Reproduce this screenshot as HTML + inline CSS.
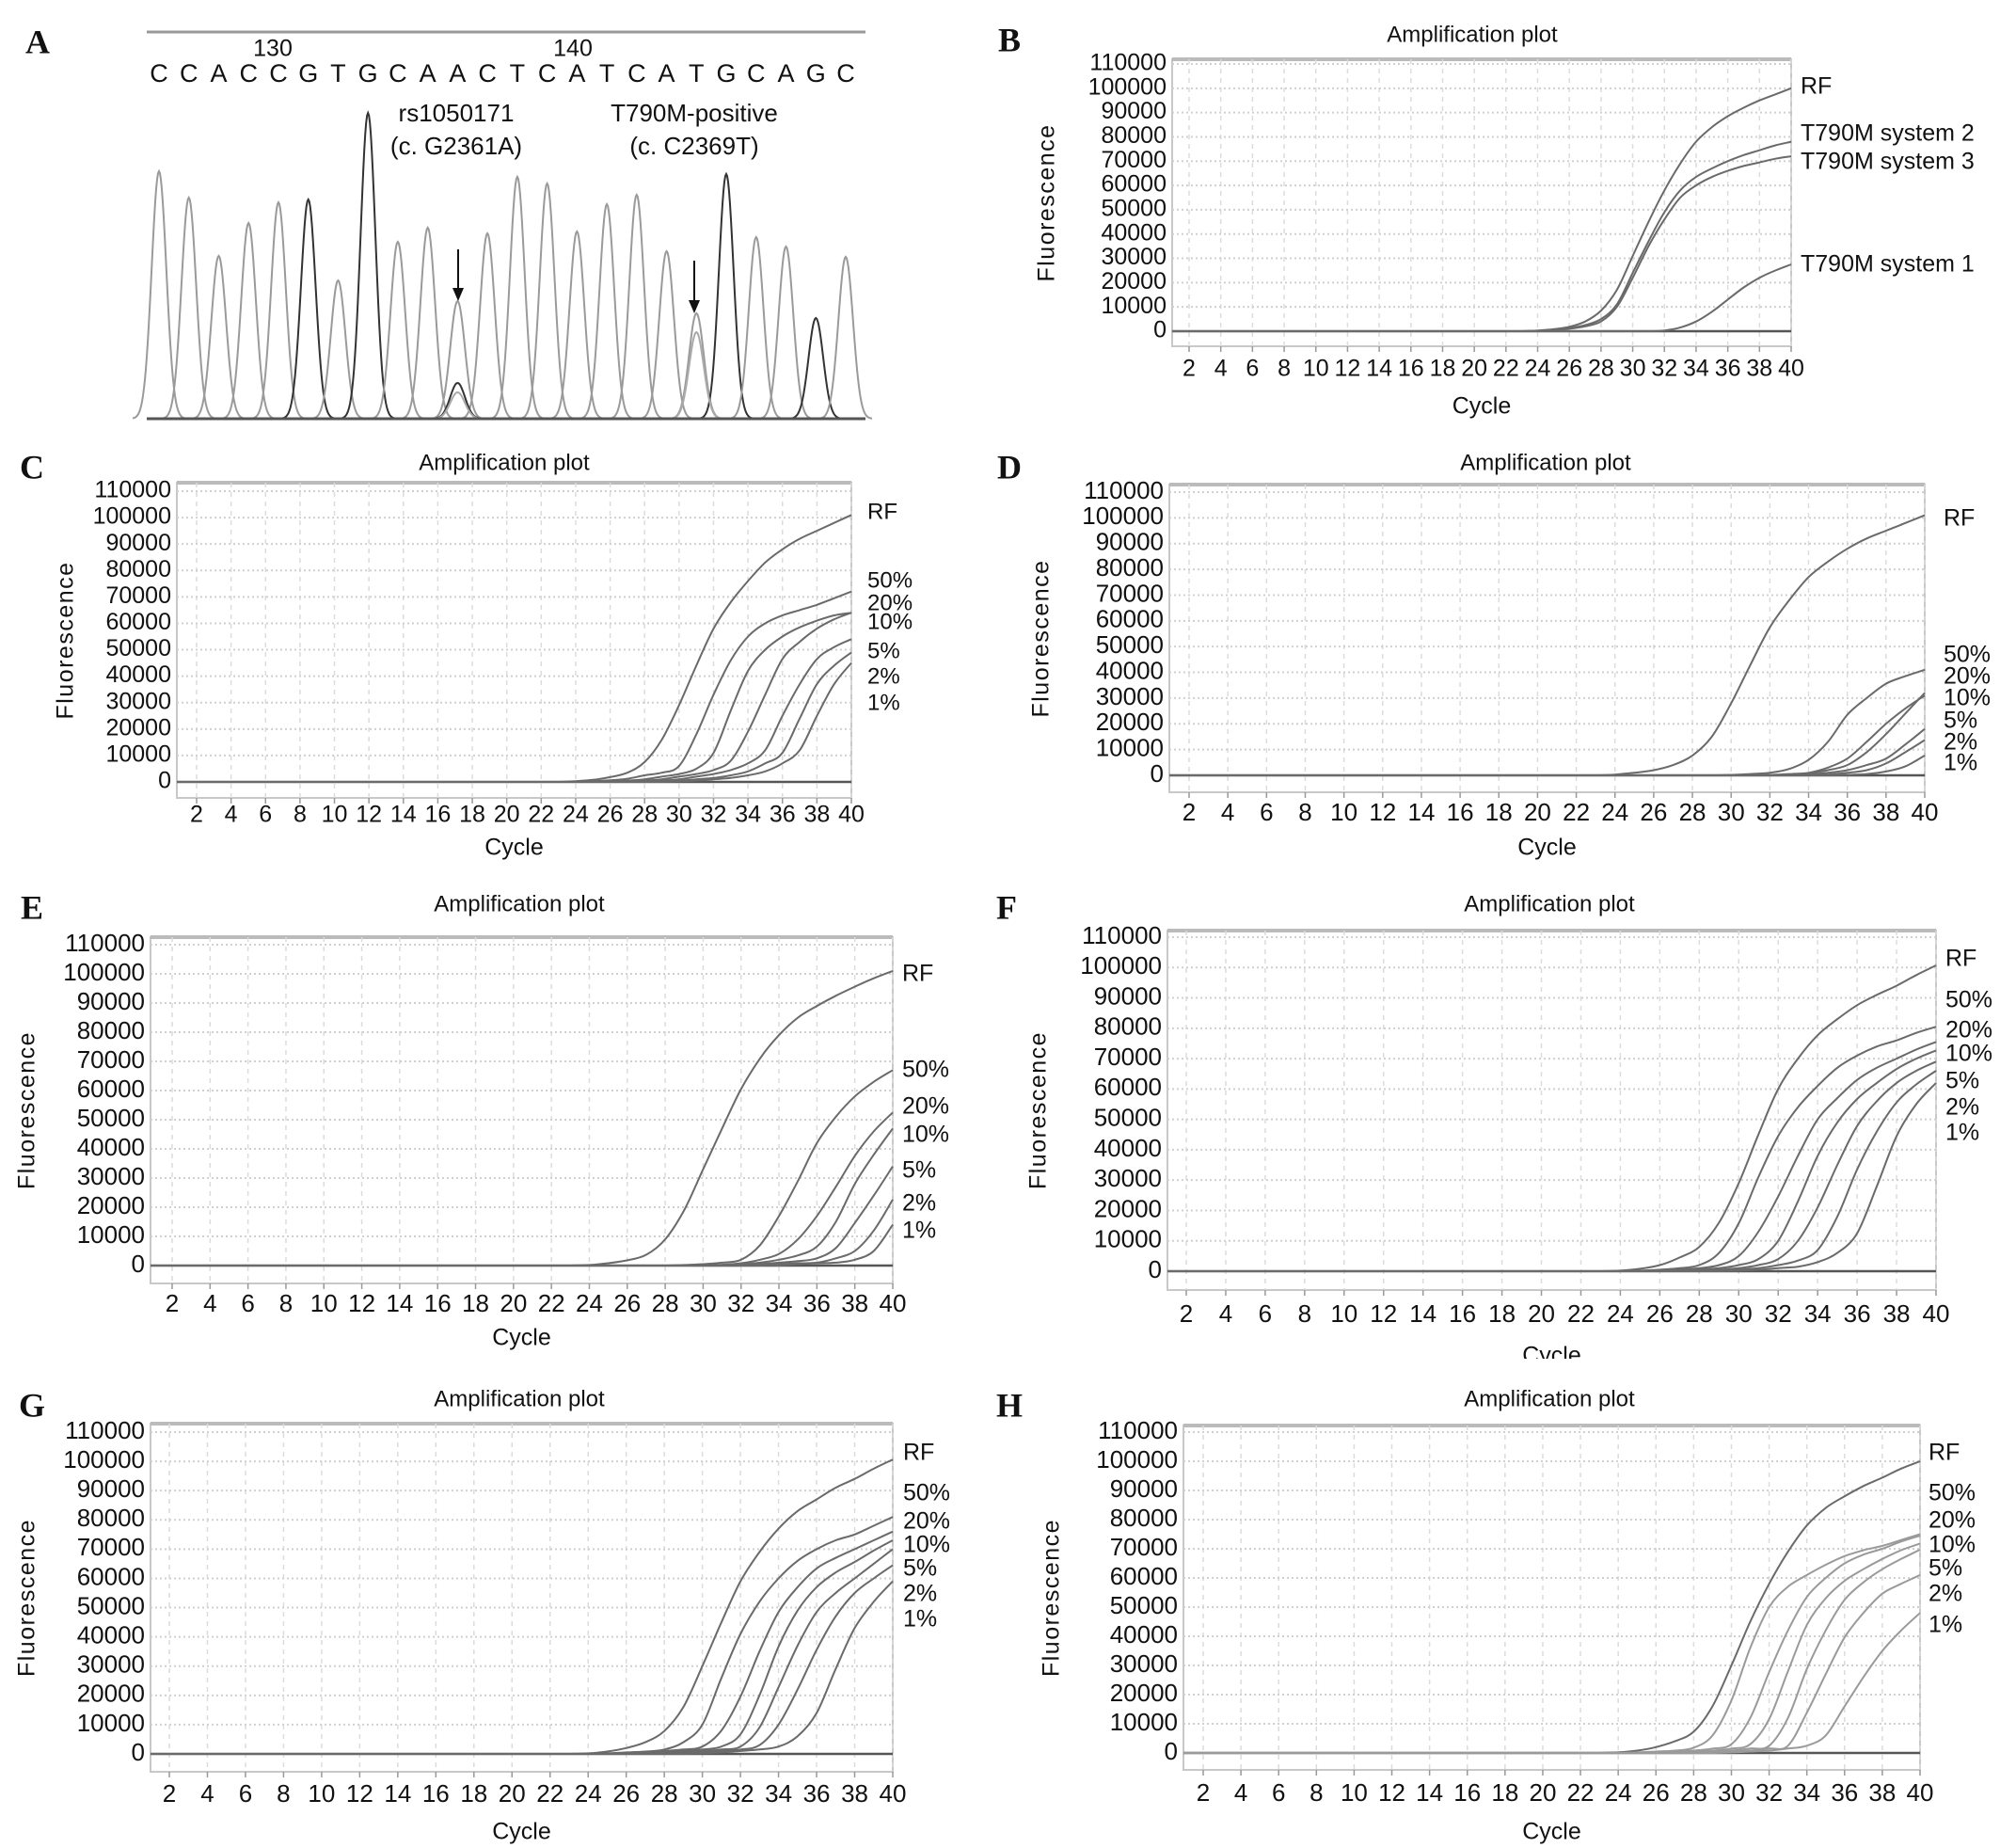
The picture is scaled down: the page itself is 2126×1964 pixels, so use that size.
<!DOCTYPE html>
<html><head><meta charset="utf-8"><style>
html,body{margin:0;padding:0;background:#fff;}
#root{position:relative;width:2126px;height:1964px;overflow:hidden;background:#fff;}
svg{position:absolute;left:0;top:0;}
text{font-family:"Liberation Sans",sans-serif;fill:#111;}
.pl{font-family:"Liberation Serif",serif;font-weight:bold;font-size:36px;}
</style></head><body>
<div id="root">
<svg id="fig" width="2126" height="1964" viewBox="0 0 2126 1964"></svg>
</div>
<script>
// ---------- Panel A chromatogram data ----------
const seqBases = ["C","C","A","C","C","G","T","G","C","A","A","C","T","C","A","T","C","A","T","G","C","A","G","C"];
const peakHeights = [263,235,173,208,230,233,147,325,188,203,125,197,257,250,199,228,238,178,112,260,193,183,107,172];
const peakDark = [0,0,0,0,0,1,0,1,0,0,0,0,0,0,0,0,0,0,0,1,0,0,1,0];
const minorPeakIdx = [10,10,18];
const minorPeakHeights = [38,28,92];
const minorPeakDark = [1,0,0];

// ---------- Amplification data (fluorescence, thousands) at cycles 24..40 ----------
const cycles = [24,25,26,27,28,29,30,31,32,33,34,35,36,37,38,39,40];
const xTicks = [2,4,6,8,10,12,14,16,18,20,22,24,26,28,30,32,34,36,38,40];
const yTicks = [0,10000,20000,30000,40000,50000,60000,70000,80000,90000,100000,110000];

const bRF = [0.3,0.8,1.8,4,8.5,17,31,45,58,69,78,84,88.5,92,95,97.5,100];
const bS2 = [0.2,0.5,1.2,2.5,5,11,24,37,49,58,63.5,67,70,72.5,74.5,76.5,78];
const bS3 = [0.2,0.4,1,2,4,10,22,35,46,55,60,63.5,66,68,69.5,71,72];
const bS1 = [0,0,0,0,0,0,0,0,0.3,1.5,4,8,13,18,22,25,27.5];

const cRF = [0.3,0.8,1.8,3.5,7.5,16,29,44,58,68,76,83,88,92,95,98,101];
const c50 = [0.1,0.3,0.6,1.2,2.5,3.5,6,18,33,46,55,60,63,65,67,69.5,72];
const c20 = [0,0,0.2,0.5,1,2,3,5,11,27,42,50,55,58.5,61,63,64];
const c10 = [0,0,0,0.2,0.5,1,2,3,4.5,8,19,33,46.5,53,58,61.5,64];
const c5  = [0,0,0,0,0.2,0.5,1,2,3,4.5,7,12,25,37,46.5,51,54];
const c2  = [0,0,0,0,0,0.2,0.5,1,1.5,2.5,4,7,11,24,37,44,49];
const c1  = [0,0,0,0,0,0,0.2,0.5,1,1.5,2.5,4,7,12,25,37,45];

const dRF = [0.3,1,2,4,7.7,15,28,43,57.5,68,77,83,88,92,95,98,101];
const d50 = [0,0,0,0,0,0,0.2,0.5,1,2.5,6,13,23.5,30,35.6,38.5,41];
const d20 = [0,0,0,0,0,0,0,0,0.2,0.5,1,3,6.5,13,20,26,31];
const d10 = [0,0,0,0,0,0,0,0,0,0.3,0.8,2,4,9,16,24,32];
const d5  = [0,0,0,0,0,0,0,0,0,0,0.3,1,2,4,6.5,12,18];
const d2  = [0,0,0,0,0,0,0,0,0,0,0,0.3,1,2,4.6,9,13.7];
const d1  = [0,0,0,0,0,0,0,0,0,0,0,0,0.2,0.5,1.5,3.5,7.7];

const eRF = [0.2,0.8,1.8,3.7,9,19,33,47,60.5,71,79,85,89,92.5,95.6,98.5,101];
const e50 = [0,0,0,0,0,0.2,0.5,1,2,7,17,29,42,51,58,63,67];
const e20 = [0,0,0,0,0,0,0,0.3,0.8,2,4,9,17,27,37.6,46,52.5];
const e10 = [0,0,0,0,0,0,0,0,0.5,1,2,3.5,6.5,15,28,38,47];
const e5  = [0,0,0,0,0,0,0,0,0,0.5,1,1.5,2.5,6,14.6,24,34];
const e2  = [0,0,0,0,0,0,0,0,0,0,0.5,0.8,1,2.5,5,12,22.6];
const e1  = [0,0,0,0,0,0,0,0,0,0,0,0.5,0.8,1,2,5,14];

const fRF = [0.2,0.8,2,4.5,8,16,29,45,60,70,77.7,83,87.6,91,94,97.5,100.7];
const f50 = [0,0.2,0.5,1,2,6,15.8,31,44.5,54,61,67,71,74,76,78.5,80.5];
const f20 = [0,0,0.2,0.5,1,2,5,13,24.6,38,50,57,63,67,70,73,75.5];
const f10 = [0,0,0,0.2,0.5,1,2,4,10,23,38,49,56.7,62,66.6,70,72.7];
const f5  = [0,0,0,0,0.2,0.5,1,2,4,10,21,35,47.8,56,62,66,69];
const f2  = [0,0,0,0,0,0.2,0.5,1,2,3.5,7,18,33.5,46,55.6,61.5,66];
const f1  = [0,0,0,0,0,0,0.2,0.5,1,1.5,3,6,12.5,28,44.5,55,62];

const gRF = [0.2,0.8,2,4,7.8,16,30,45,59,69,77,83,87,91,94,97.5,100.6];
const g50 = [0,0.2,0.5,0.8,1.5,4,10,26,41,52,60,66,70,73,75,78,81];
const g20 = [0,0,0.2,0.5,1,1.5,2.5,8,19.6,35,48.5,57,63.4,67,70,73,76];
const g10 = [0,0,0,0.2,0.5,1,1.5,2.5,6.7,20,36.7,49,57,62,65.6,69.5,73];
const g5  = [0,0,0,0,0.2,0.5,1,1.5,2.5,9,22.8,37,48.5,55,60,65,70];
const g2  = [0,0,0,0,0,0.2,0.5,1,1.5,3,10,22,35.6,47,55,60,64.5];
const g1  = [0,0,0,0,0,0,0.2,0.5,1,1.5,2.5,6,14,29,43,52,59];

const hRF = [0.2,0.8,2,4,7.3,16,30,45,58,69,78,84,88,91.5,94.4,97.5,100];
const h50 = [0,0.2,0.5,0.8,1.8,6,18,36,50,57,61,64.5,67.5,69.5,71,73,75];
const h20 = [0,0,0.2,0.5,0.8,1.5,3,12,27.7,42,53.5,60,65,68,70,72.5,74.5];
const h10 = [0,0,0,0.2,0.5,0.8,1.5,3,11.6,28,43.9,53,59,63,66.5,69.5,71.8];
const h5  = [0,0,0,0,0.2,0.5,0.8,1.5,2.5,12,28.8,42,52.5,58.5,63,66.5,69.7];
const h2  = [0,0,0,0,0,0.2,0.5,0.8,1.5,2.5,13.8,27,39.6,48,54.6,58,61];
const h1  = [0,0,0,0,0,0,0.2,0.5,0.8,1.5,2.5,6,16,26,35,42,48];

const pctLabels = ["50%","20%","10%","5%","2%","1%"];

const NS = "http://www.w3.org/2000/svg";
const svg = document.getElementById("fig");
function mk(tag, attrs, parent) {
  const e = document.createElementNS(NS, tag);
  for (const k in attrs) e.setAttribute(k, attrs[k]);
  (parent || svg).appendChild(e);
  return e;
}
function txt(s, x, y, size, anchor, parent, extra) {
  const t = mk("text", Object.assign({x:x, y:y, "font-size":size, "text-anchor":anchor||"start", "dominant-baseline":"middle"}, extra||{}), parent);
  t.textContent = s;
  return t;
}
function smoothPath(pts) {
  let d = "";
  for (let i=0;i<pts.length-1;i++){
    const p0 = pts[Math.max(0,i-1)], p1 = pts[i], p2 = pts[i+1], p3 = pts[Math.min(pts.length-1,i+2)];
    const c1x = p1[0]+(p2[0]-p0[0])/6, c1y = p1[1]+(p2[1]-p0[1])/6;
    const c2x = p2[0]-(p3[0]-p1[0])/6, c2y = p2[1]-(p3[1]-p1[1])/6;
    d += "C"+c1x.toFixed(1)+","+c1y.toFixed(1)+" "+c2x.toFixed(1)+","+c2y.toFixed(1)+" "+p2[0].toFixed(1)+","+p2[1].toFixed(1);
  }
  return d;
}

// ---------- Panel A ----------
(function(){
  const g = mk("g", {});
  
  
  const L = txt("A", 40, 48, 36, "middle", g, {"class":"pl"});
  
  
  const top = mk("line", {x1:156,y1:34,x2:920,y2:34,stroke:"#999","stroke-width":3}, g);
  
  
  const x0 = 169, step = (899-169)/23;
  const baseX = i => x0 + i*step;
  const baseY = 445;
  const yA = h => baseY - h;
  const n130 = txt("130", 290, 53, 25, "middle", g);
  
  
  const n140 = txt("140", 609, 53, 25, "middle", g);
  
  
  seqBases.forEach((b,i)=>{
    const t = txt(b, baseX(i), 80, 27, "middle", g);
    
    
  });
  const l1 = txt("rs1050171", 485, 122, 26, "middle", g);
  
  
  const l2 = txt("(c. G2361A)", 485, 157, 26, "middle", g);
  
  
  const l3 = txt("T790M-positive", 738, 122, 26, "middle", g);
  
  
  const l4 = txt("(c. C2369T)", 738, 157, 26, "middle", g);
  
  
  function peakPath(cx, h) {
    const s = 7.8; let d = "";
    for (let dx=-28; dx<=28; dx+=1) {
      const y = yA(h*Math.exp(-dx*dx/(2*s*s)));
      d += (dx===-28?"M":"L") + (cx+dx).toFixed(1) + "," + y.toFixed(1);
    }
    return d;
  }
  peakHeights.forEach((h,i)=>{
    const p = mk("path", {d:peakPath(baseX(i), h), fill:"none", stroke: peakDark[i]?"#333":"#9a9a9a", "stroke-width":2}, g);
    
    
  });
  minorPeakIdx.forEach((idx,k)=>{
    const p = mk("path", {d:peakPath(baseX(idx), minorPeakHeights[k]), fill:"none", stroke: minorPeakDark[k]?"#333":"#aaa", "stroke-width":2}, g);
    
    
  });
  const bl = mk("line", {x1:156,y1:baseY,x2:920,y2:baseY,stroke:"#555","stroke-width":3}, g);
  
  
  [[487,265,320],[738,277,333]].forEach(a=>{
    const ln = mk("line", {x1:a[0],y1:a[1],x2:a[0],y2:a[2]-8,stroke:"#111","stroke-width":2}, g);
    
    
    const hd = mk("polygon", {points:`${a[0]-6},${a[2]-14} ${a[0]+6},${a[2]-14} ${a[0]},${a[2]}`, fill:"#111"}, g);
    
    
  });
})();

// ---------- Amplification plot builder ----------
function plot(cfg) {
  const g = mk("g", {});
  
  
  const xS = c => cfg.x2 + (c-2)*(cfg.x40-cfg.x2)/38;
  const yS = v => cfg.y0 - v*(cfg.y0-cfg.y110)/110000;
  const L = txt(cfg.id.toUpperCase(), cfg.lx, cfg.ly, 36, "middle", g, {"class":"pl"});
  
  
  const T = txt("Amplification plot", cfg.tx, cfg.ty, 24, "middle", g);
  
  
  const box = mk("rect", {x:cfg.left, y:cfg.top, width:cfg.right-cfg.left, height:cfg.bottom-cfg.top, fill:"#fff", stroke:"#c8c8c8", "stroke-width":2}, g);
  
  
  const tb = mk("line", {x1:cfg.left, y1:cfg.top, x2:cfg.right, y2:cfg.top, stroke:"#bbb", "stroke-width":4}, g);
  
  
  xTicks.forEach(c=>{
    const gl = mk("line", {x1:xS(c), y1:cfg.top, x2:xS(c), y2:cfg.bottom, stroke:"#dcdcdc", "stroke-width":1.5, "stroke-dasharray":"5,5"}, g);
    
    
    const tk = mk("line", {x1:xS(c), y1:cfg.bottom, x2:xS(c), y2:cfg.bottom+6, stroke:"#999", "stroke-width":1.5}, g);
    
    
    const tl = txt(String(c), xS(c), cfg.xly, cfg.fs, "middle", g);
    
    
  });
  yTicks.forEach(v=>{
    const gl = mk("line", {x1:cfg.left, y1:yS(v), x2:cfg.right, y2:yS(v), stroke:"#d0d0d0", "stroke-width":2, "stroke-dasharray":"2,3"}, g);
    
    
    const tl = txt(String(v), cfg.left-6, yS(v), cfg.fs, "end", g);
    
    
  });
  const yl = txt("Fluorescence", 0, 0, 25, "middle", g, {transform:`translate(${cfg.ylx},${(cfg.top+cfg.bottom)/2}) rotate(-90)`, "letter-spacing":"1.5"});
  
  
  const xl = txt("Cycle", (cfg.left+cfg.right)/2, cfg.cy, 25, "middle", g);
  
  
  const base = mk("line", {x1:cfg.left, y1:cfg.y0, x2:cfg.right, y2:cfg.y0, stroke:"#555", "stroke-width":2.5}, g);
  
  
  cfg.series.forEach((vals,si)=>{
    const pts = [[xS(23), yS(0)]];
    cycles.forEach((c,i)=>{ pts.push([xS(c), yS(vals[i]*1000)]); });
    const d = "M" + cfg.left + "," + yS(0).toFixed(1) + "L" + xS(23).toFixed(1) + "," + yS(0).toFixed(1) + smoothPath(pts);
    const col = (cfg.light && si>0) ? "#9a9a9a" : "#6a6a6a";
    const p = mk("path", {d:d, fill:"none", stroke:col, "stroke-width":2}, g);
    
    
  });
  cfg.labels.forEach((s,i)=>{
    const t = txt(s, cfg.labx, cfg.laby[i], cfg.labfs||25, "start", g);
    
    
  });
}

const pctNames = ["rf","50pct","20pct","10pct","5pct","2pct","1pct"];
plot({id:"b", left:1246,right:1904,top:63,bottom:368,y0:352,y110:68,x2:1264,x40:1904,
  lx:1073,ly:46,tx:1565,ty:38,xly:393,ylx:1114,cy:433,fs:25,
  series:[bRF,bS2,bS3,bS1], names:["rf","system-2","system-3","system-1"],
  labels:["RF","T790M system 2","T790M system 3","T790M system 1"], labx:1914, laby:[93,143,173,282]});
plot({id:"c", left:188,right:905,top:513,bottom:848,y0:831,y110:522,x2:209,x40:905,
  lx:34,ly:500,tx:536,ty:493,xly:867,ylx:71,cy:902,fs:25,
  series:[cRF,c50,c20,c10,c5,c2,c1], names:pctNames,
  labels:["RF"].concat(pctLabels), labx:922, laby:[545,618,642,662,693,720,748], labfs:24});
plot({id:"d", left:1243,right:2046,top:515,bottom:842,y0:824,y110:523,x2:1264,x40:2046,
  lx:1073,ly:500,tx:1643,ty:493,xly:865,ylx:1108,cy:902,fs:26,
  series:[dRF,d50,d20,d10,d5,d2,d1], names:pctNames,
  labels:["RF"].concat(pctLabels), labx:2066, laby:[552,697,720,743,767,790,812]});
plot({id:"e", left:160,right:949,top:996,bottom:1364,y0:1345,y110:1004,x2:183,x40:949,
  lx:34,ly:968,tx:552,ty:962,xly:1387,ylx:30,cy:1423,fs:26,
  series:[eRF,e50,e20,e10,e5,e2,e1], names:pctNames,
  labels:["RF"].concat(pctLabels), labx:959, laby:[1036,1138,1177,1207,1245,1280,1309]});
plot({id:"f", left:1241,right:2058,top:989,bottom:1371,y0:1351,y110:996,x2:1261,x40:2058,
  lx:1070,ly:968,tx:1647,ty:962,xly:1398,ylx:1105,cy:1442,fs:26,
  series:[fRF,f50,f20,f10,f5,f2,f1], names:pctNames,
  labels:["RF"].concat(pctLabels), labx:2068, laby:[1020,1064,1096,1121,1150,1178,1205]});
plot({id:"g", left:160,right:949,top:1513,bottom:1883,y0:1864,y110:1522,x2:180,x40:949,
  lx:34,ly:1497,tx:552,ty:1488,xly:1908,ylx:30,cy:1948,fs:26,
  series:[gRF,g50,g20,g10,g5,g2,g1], names:pctNames,
  labels:["RF"].concat(pctLabels), labx:960, laby:[1545,1588,1618,1643,1668,1695,1722]});
plot({id:"h", left:1258,right:2041,top:1515,bottom:1881,y0:1863,y110:1522,x2:1279,x40:2041,
  lx:1073,ly:1497,tx:1647,ty:1488,xly:1907,ylx:1119,cy:1948,fs:26, light:true,
  series:[hRF,h50,h20,h10,h5,h2,h1], names:pctNames,
  labels:["RF"].concat(pctLabels), labx:2050, laby:[1545,1588,1617,1643,1668,1695,1728]});

// Panel F "Cycle" title is clipped in the reference
const cover = mk("rect", {x:1400,y:1444,width:500,height:20,fill:"#fff"});


</script>
</body></html>
